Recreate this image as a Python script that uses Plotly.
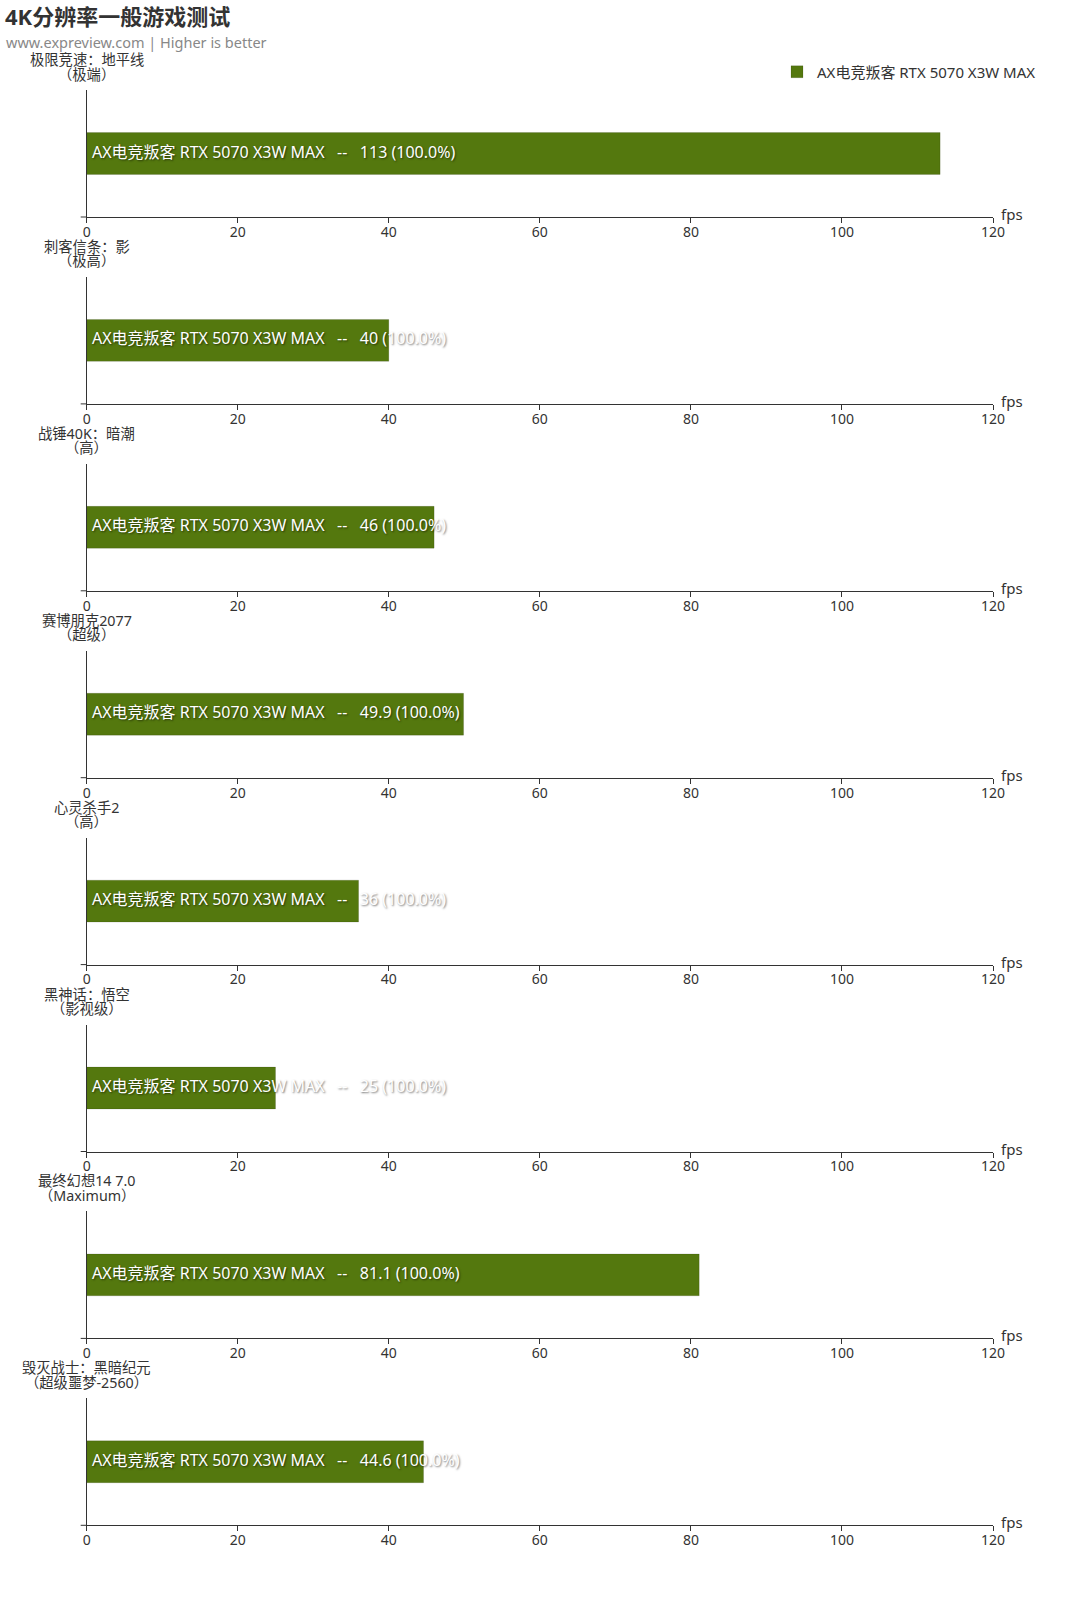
import plotly.graph_objects as go

# ---- data ----
games = ["极限竞速：地平线", "刺客信条：影", "战锤40K：暗潮", "赛博朋克2077",
         "心灵杀手2", "黑神话：悟空", "最终幻想14 7.0", "毁灭战士：黑暗纪元"]
settings = ["（极端）", "（极高）", "（高）", "（超级）", "（高）", "（影视级）",
            "（Maximum）", "（超级噩梦-2560）"]
fps = [113, 40, 46, 49.9, 36, 25, 81.1, 44.6]
pct = [100.0, 100.0, 100.0, 100.0, 100.0, 100.0, 100.0, 100.0]
card = "AX电竞叛客 RTX 5070 X3W MAX"
x_ticks = [0, 20, 40, 60, 80, 100, 120]
title = "4K分辨率一般游戏测试"
subtitle = "www.expreview.com | Higher is better"
unit = "fps"

# ---- style ----
W, H = 1080, 1600
FONT = "'Noto Sans', 'Noto Sans CJK SC', sans-serif"
GREEN = "#54780E"
DARK = "#333333"
X0, X1 = 86.7, 993.0
TOP0, PLOT_H, STEP = 90.0, 127.0, 186.9

def py(p):
    return 1 - p / H

def px(p):
    return p / W

fig = go.Figure()
annotations = []
shapes = []
NB = "\u00a0"
SEP = NB * 3 + "--" + NB * 3

for i, (g, s, v, p) in enumerate(zip(games, settings, fps, pct)):
    k = i + 1
    xa = "x" if k == 1 else f"x{k}"
    ya = "y" if k == 1 else f"y{k}"
    top = TOP0 + STEP * i
    bot = top + PLOT_H
    fig.add_trace(go.Bar(
        x=[v], y=[0], orientation="h", width=[0.33],
        marker=dict(color=GREEN, line=dict(color="rgba(0,0,0,0.12)", width=1)),
        name=card, showlegend=(i == 0), legendgroup="card",
        hoverinfo="x", xaxis=xa, yaxis=ya,
    ))
    label = f"{card}{SEP}{v:g} ({p:.1f}%)"
    annotations.append(dict(
        x=0, y=0, xref=xa, yref=ya, text=label, showarrow=False,
        xanchor="left", yanchor="middle", xshift=3, yshift=2,
        font=dict(family=FONT, size=16, color="white",
                  shadow="1px 1px 2px rgba(0,0,0,0.55)"),
    ))
    xkey = "xaxis" if k == 1 else f"xaxis{k}"
    ykey = "yaxis" if k == 1 else f"yaxis{k}"
    fig.layout[xkey] = dict(
        domain=[px(X0), px(X1)], anchor=ya, range=[0, 120],
        tickvals=x_ticks, ticks="outside", ticklen=5, tickcolor=DARK,
        showline=True, linecolor=DARK, linewidth=1, showgrid=False,
        zeroline=False, fixedrange=True, automargin=False,
        ticklabelstandoff=-3,
        tickfont=dict(family=FONT, size=14, color=DARK),
    )
    fig.layout[ykey] = dict(
        domain=[py(bot), py(top)], anchor=xa, range=[-0.5, 0.5],
        showline=True, linecolor=DARK, linewidth=1, showgrid=False,
        zeroline=False, showticklabels=False, ticks="", fixedrange=True,
        automargin=False,
    )
    # category name above the panel
    annotations.append(dict(x=px(X0), y=py(top - 30.5), xref="paper", yref="paper",
                            text=g, showarrow=False, xanchor="center", yanchor="middle",
                            font=dict(family=FONT, size=14.3, color=DARK)))
    annotations.append(dict(x=px(X0), y=py(top - 16), xref="paper", yref="paper",
                            text=s, showarrow=False, xanchor="center", yanchor="middle",
                            font=dict(family=FONT, size=14.3, color=DARK)))
    # unit label
    annotations.append(dict(x=px(X1 + 6), y=py(bot - 3), xref="paper", yref="paper",
                            text=unit, showarrow=False, xanchor="left", yanchor="middle",
                            font=dict(family=FONT, size=15, color=DARK)))
    # small category-axis tick at bottom
    shapes.append(dict(type="line", xref="paper", yref="paper",
                       x0=px(X0 - 6), x1=px(X0), y0=py(bot), y1=py(bot),
                       line=dict(color=DARK, width=1)))

annotations.append(dict(x=px(3), y=py(16), xref="paper", yref="paper", text=f"<b>{title}</b>",
                        showarrow=False, xanchor="left", yanchor="middle",
                        font=dict(family=FONT, size=22, color=DARK)))
annotations.append(dict(x=px(4), y=py(42), xref="paper", yref="paper", text=subtitle,
                        showarrow=False, xanchor="left", yanchor="middle",
                        font=dict(family=FONT, size=14.5, color="#888888")))

fig.update_layout(
    width=W, height=H, margin=dict(l=0, r=0, t=0, b=0, autoexpand=False),
    autosize=False,
    paper_bgcolor="white", plot_bgcolor="white",
    font=dict(family=FONT, size=14, color=DARK),
    barmode="overlay",
    legend=dict(x=px(777), y=py(72), xanchor="left", yanchor="middle",
                font=dict(family=FONT, size=15, color=DARK),
                bgcolor="rgba(0,0,0,0)", itemclick=False, itemdoubleclick=False),
    annotations=annotations, shapes=shapes,
)

fig.write_html("out.html")
